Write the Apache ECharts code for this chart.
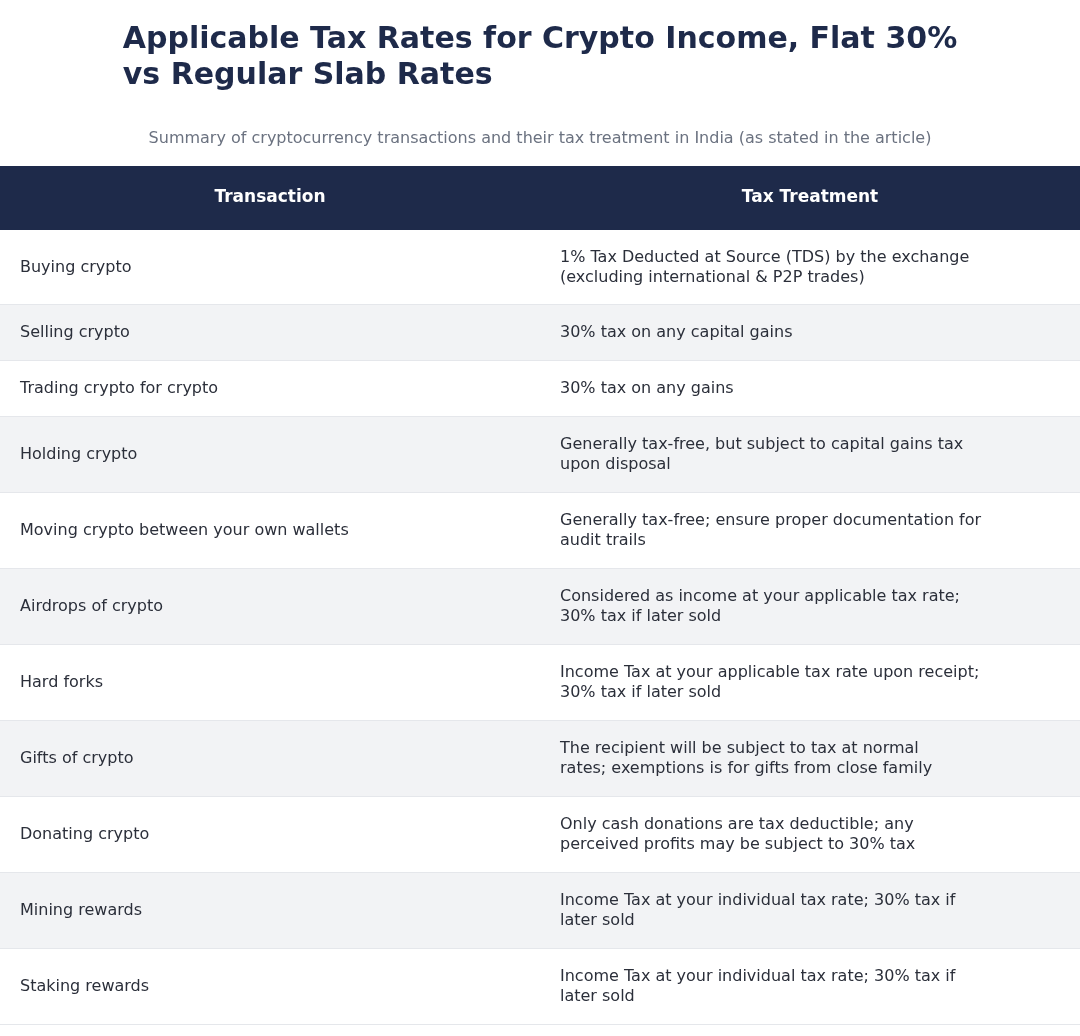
<!DOCTYPE html>
<html><head><meta charset="utf-8">
<script src="https://cdn.jsdelivr.net/npm/echarts@6/dist/echarts.min.js"></script>
<style>html,body{margin:0;padding:0;background:#fff}#c{width:1080px;height:1036px}</style>
</head><body><div id="c"></div>
<script>
const headers = ["Transaction", "Tax Treatment"];
const transactions = ["Buying crypto","Selling crypto","Trading crypto for crypto","Holding crypto","Moving crypto between your own wallets","Airdrops of crypto","Hard forks","Gifts of crypto","Donating crypto","Mining rewards","Staking rewards"];
const treatments = [
 "1% Tax Deducted at Source (TDS) by the exchange\n(excluding international & P2P trades)",
 "30% tax on any capital gains",
 "30% tax on any gains",
 "Generally tax-free, but subject to capital gains tax\nupon disposal",
 "Generally tax-free; ensure proper documentation for\naudit trails",
 "Considered as income at your applicable tax rate;\n30% tax if later sold",
 "Income Tax at your applicable tax rate upon receipt;\n30% tax if later sold",
 "The recipient will be subject to tax at normal\nrates; exemptions is for gifts from close family",
 "Only cash donations are tax deductible; any\nperceived profits may be subject to 30% tax",
 "Income Tax at your individual tax rate; 30% tax if\nlater sold",
 "Income Tax at your individual tax rate; 30% tax if\nlater sold"
];
const FONT = '"DejaVu Sans", sans-serif';
const g = [];
g.push({type:'text',left:'center',top:22,style:{text:'Applicable Tax Rates for Crypto Income, Flat 30%\nvs Regular Slab Rates',font:'bold 30px '+FONT,fill:'#1e2a4a',align:'center',lineHeight:36}});
g.push({type:'text',left:'center',top:131,style:{text:'Summary of cryptocurrency transactions and their tax treatment in India (as stated in the article)',font:'16px '+FONT,fill:'#6b7280'}});
g.push({type:'rect',shape:{x:0,y:166,width:1080,height:64},style:{fill:'#1e2a4a'}});
g.push({type:'text',x:270,y:198,style:{text:headers[0],font:'bold 17px '+FONT,fill:'#fff',align:'center',verticalAlign:'middle'}});
g.push({type:'text',x:810,y:198,style:{text:headers[1],font:'bold 17px '+FONT,fill:'#fff',align:'center',verticalAlign:'middle'}});
let y = 230;
transactions.forEach((t,i)=>{
  const two = treatments[i].includes('\n');
  const h = i===0 ? 75 : (two ? 76 : 56);
  g.push({type:'rect',shape:{x:0,y:y,width:1080,height:h},style:{fill:i%2?'#f2f3f5':'#ffffff'}});
  g.push({type:'rect',shape:{x:0,y:y+h-1,width:1080,height:1},style:{fill:'#e5e7eb'}});
  g.push({type:'text',x:20,y:y+h/2,style:{text:t,font:'16px '+FONT,fill:'#2b2f3a',verticalAlign:'middle'}});
  g.push({type:'text',x:560,y:y+h/2,style:{text:treatments[i],font:'16px '+FONT,fill:'#2b2f3a',verticalAlign:'middle',lineHeight:20}});
  y += h;
});
const chart = echarts.init(document.getElementById('c'));
chart.setOption({backgroundColor:'#fff',graphic:g});
</script></body></html>
